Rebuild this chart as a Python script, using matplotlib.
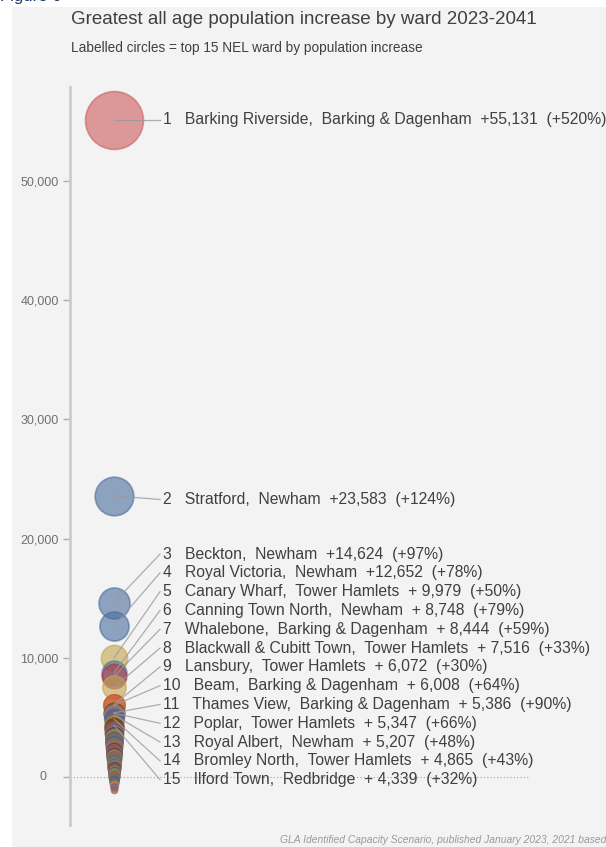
import matplotlib.pyplot as plt
import matplotlib.transforms as mtransforms
from matplotlib.patches import Rectangle
import numpy as np

# top 15 wards
ranks = list(range(1, 16))
wards = ["Barking Riverside", "Stratford", "Beckton", "Royal Victoria", "Canary Wharf",
         "Canning Town North", "Whalebone", "Blackwall & Cubitt Town", "Lansbury", "Beam",
         "Thames View", "Poplar", "Royal Albert", "Bromley North", "Ilford Town"]
boroughs = ["Barking & Dagenham", "Newham", "Newham", "Newham", "Tower Hamlets",
            "Newham", "Barking & Dagenham", "Tower Hamlets", "Tower Hamlets", "Barking & Dagenham",
            "Barking & Dagenham", "Tower Hamlets", "Newham", "Tower Hamlets", "Redbridge"]
increase = [55131, 23583, 14624, 12652, 9979, 8748, 8444, 7516, 6072, 6008,
            5386, 5347, 5207, 4865, 4339]
pct = [520, 124, 97, 78, 50, 79, 59, 33, 30, 64, 90, 66, 48, 43, 32]
top_colors = ["#cd5c5c", "#4a6d9c", "#4a6d9c", "#4a6d9c", "#c4a54e",
              "#3f7f9a", "#b03048", "#c4a54e", "#b8483a", "#d0602a",
              "#8a4a20", "#6b5a2a", "#9a7fa0", "#4a5f8a", "#c08a2a"]

# remaining NEL wards (unlabelled)
other_increase = [4210, 4080, 3930, 3810, 3720, 3590, 3510, 3430, 3340, 3280,
                  3190, 3110, 3060, 2970, 2910, 2820, 2770, 2690, 2640, 2550,
                  2500, 2430, 2370, 2320, 2240, 2190, 2110, 2070, 1990, 1950,
                  1870, 1820, 1750, 1710, 1630, 1590, 1510, 1470, 1390, 1340,
                  1290, 1210, 1170, 1090, 1050, 970, 930, 860, 790, 740,
                  670, 610, 560, 480, 430, 360, 300, 230, 170, 110,
                  40, -30, -110, -190, -290, -400, -520, -660, -820, -1050]
other_colors = ["#7a3b1e", "#5b4a2c", "#a0522d", "#8c6bb1", "#6a3d5a", "#b5892b",
                "#3a6fb0", "#8b1a2b", "#2e8b8b", "#e07b39", "#6b8e23", "#a05080",
                "#3b5f8a", "#c06040", "#508060", "#8a6a4a", "#2f6f9f", "#b04050",
                "#4f8f6f", "#d08040", "#7060a0", "#9a5a3a", "#3a8a9a", "#c07a5a"]

title_font = "Liberation Sans"
textColor = "#404040"
tickColor = "#707070"
background = "#f3f3f3"

plt.rcParams['font.family'] = [title_font, 'DejaVu Sans']

fig = plt.figure(figsize=(6.06, 8.47), dpi=100)
fig.patch.set_facecolor("white")
fig.patches.append(Rectangle((12/606, 0), 1, 1 - 7/847, transform=fig.transFigure,
                             facecolor=background, edgecolor="none", zorder=-10))

# caption of the page, mostly cut off at the top
fig.text(0.0, 1 + 4/847, "Figure 6", color="#1f3d6b", fontsize=12, va="center", ha="left")

ax = fig.add_axes([70/606, 1 - 825/847, 536/606, 738/847])
ax.set_facecolor("none")
ax.set_xlim(-44, 492)
ax.set_ylim(-4027, 57886)

vals = increase + other_increase
cols = top_colors + [other_colors[i % len(other_colors)] for i in range(len(other_increase))]
order = np.argsort(vals)[::-1]
vals_sorted = np.array(vals)[order]
cols_sorted = [cols[i] for i in order]
sizes = 0.5184 * (100 + 0.059 * vals_sorted)
for v, c, s in zip(vals_sorted, cols_sorted, sizes):
    ax.scatter([0], [v], s=s, color=c, alpha=0.6, edgecolors=c, linewidths=1.2, zorder=3)

# zero line
ax.axhline(0, xmin=0, xmax=(530-70)/536, ls=(0, (1, 2)), lw=0.8, color="#a0a0a0", zorder=1)

# labels
label_x = 49
step = 1577
for i in range(15):
    if i == 0:
        ly = increase[0]
    elif i == 1:
        ly = increase[1] - 300
    else:
        ly = 18700 - (i - 2) * step
    ax.plot([0, label_x - 3], [increase[i], ly], color="#9a9a9a", lw=0.9, alpha=0.8, zorder=4)
    txt = "{}   {},  {}  +{:>6,}  (+{}%)".format(ranks[i], wards[i], boroughs[i], increase[i], pct[i])
    ax.text(label_x, ly, txt, fontsize=11.3, color=textColor, va="center", ha="left",
            clip_on=False, zorder=5)

# axes styling
for s in ["top", "right", "bottom"]:
    ax.spines[s].set_visible(False)
ax.spines["left"].set_color("#cccccc")
ax.spines["left"].set_linewidth(2)
ax.set_xticks([])
yt = [0, 10000, 20000, 30000, 40000, 50000]
ax.set_yticks(yt)
ax.set_yticklabels(["" if t == 0 else "{:,}".format(t) for t in yt])
ax.tick_params(axis="y", length=5, width=1, color="#b0b0b0", labelcolor=tickColor,
               labelsize=9, pad=3)
trans = mtransforms.blended_transform_factory(ax.transAxes, ax.transData)
ax.text(-(70 - 46)/536, 0, "0", transform=trans, ha="right", va="center",
        fontsize=9, color=tickColor)

fig.text(71/606, 1 - 20/847, "Greatest all age population increase by ward 2023-2041",
         fontsize=13.5, color=textColor, va="center", ha="left")
fig.text(71/606, 1 - 48/847, "Labelled circles = top 15 NEL ward by population increase",
         fontsize=9.8, color=textColor, va="center", ha="left")
fig.text(1.0, 1 - 840/847, "GLA Identified Capacity Scenario, published January 2023, 2021 based",
         fontsize=7.4, fontstyle="italic", color="#999999", va="center", ha="right")

fig.savefig("out.png", dpi=100)
